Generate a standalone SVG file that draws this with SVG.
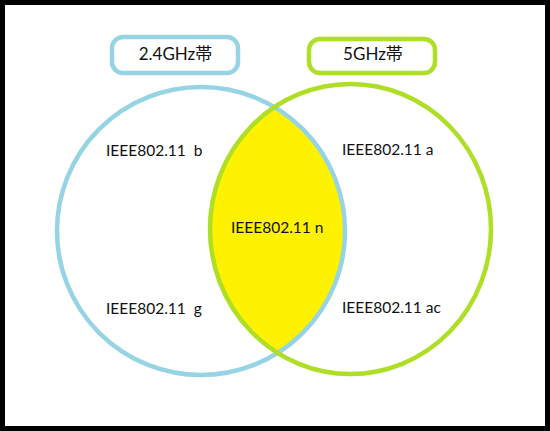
<svg xmlns="http://www.w3.org/2000/svg" width="550" height="431" viewBox="0 0 550 431">
<style>
.lbl{font-family:Lato,"Noto Sans","Noto Sans CJK JP",sans-serif;font-size:15.5px;fill:#111;white-space:pre}
.ttl{font-family:Lato,"Noto Sans","Noto Sans CJK JP",sans-serif;font-size:17px;fill:#111}
.blue{fill:none;stroke:#96d4e4;stroke-width:4.5}
.green{fill:none;stroke:#aede26;stroke-width:4.5}
</style>
<defs>
<clipPath id="clipGreen"><ellipse cx="350.5" cy="229" rx="140.5" ry="145"/></clipPath>
</defs>
<rect x="0" y="0" width="550" height="431" fill="#fff"/>
<rect x="2.5" y="2.5" width="545" height="426" fill="none" stroke="#000" stroke-width="5"/>
<g id="overlap">
<circle cx="201" cy="231" r="144" fill="#fff200" clip-path="url(#clipGreen)"/>
</g>
<g id="band24">
<circle class="blue" cx="201" cy="231" r="144"/>
<rect class="blue" x="112" y="37" width="126" height="36" rx="11"/>
<text class="ttl" x="175.5" y="60" text-anchor="middle">2.4GHz帯</text>
</g>
<g id="band5">
<ellipse class="green" cx="350.5" cy="229" rx="140.5" ry="145"/>
<rect class="green" x="309" y="39" width="126" height="34" rx="11"/>
<text class="ttl" x="373" y="60" text-anchor="middle">5GHz帯</text>
</g>
<g id="labels">
<text class="lbl" x="106" y="156" xml:space="preserve">IEEE802.11  b</text>
<text class="lbl" x="106" y="314" xml:space="preserve">IEEE802.11  g</text>
<text class="lbl" x="231" y="233">IEEE802.11 n</text>
<text class="lbl" x="342" y="155">IEEE802.11 a</text>
<text class="lbl" x="342" y="313">IEEE802.11 ac</text>
</g>
<g id="connectors"/>
</svg>
